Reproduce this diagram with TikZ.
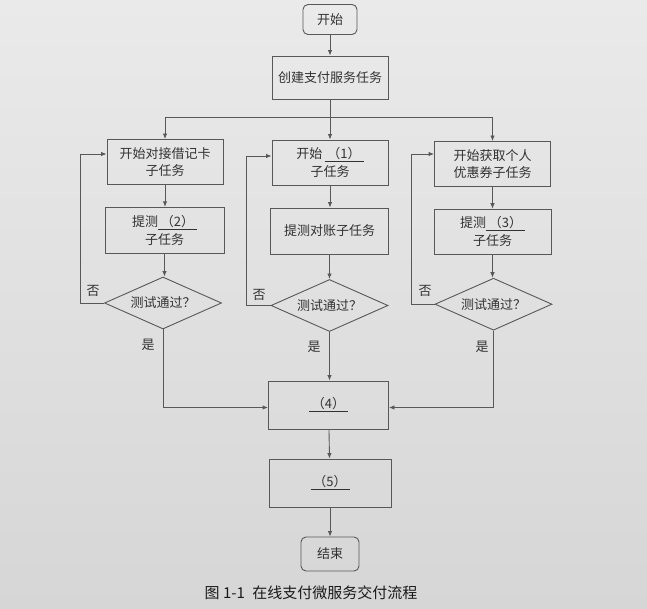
\documentclass[tikz,border=0pt]{standalone}
\usepackage{fontspec}
\setmainfont{Noto Sans CJK SC}
\usetikzlibrary{arrows.meta,shapes.geometric}
\definecolor{bgtop}{RGB}{234,234,234}
\definecolor{bgbot}{RGB}{214,214,214}
\definecolor{ink}{RGB}{88,88,88}
\definecolor{txt}{RGB}{50,50,50}
\newcommand{\blank}[1]{\underline{\makebox[3em]{（#1）}}}
\begin{document}
\begin{tikzpicture}[x=1pt,y=-1pt,
  box/.style={draw=ink, line width=0.9pt, minimum width=116pt, minimum height=45pt,
    inner sep=0pt, align=center, font=\fontsize{13}{17.5}\selectfont, text=txt},
  term/.style={box, rounded corners=5pt, minimum width=54pt, minimum height=30pt},
  dec/.style={draw=ink, line width=0.9pt, diamond, aspect=2.2, minimum width=117pt,
    minimum height=52pt, inner sep=0pt, font=\fontsize{13}{15}\selectfont, text=txt},
  arr/.style={draw=ink, line width=0.9pt, -{Latex[length=5.5pt,width=4.5pt]}},
  lbl/.style={font=\fontsize{13}{15}\selectfont, text=txt}
]
\useasboundingbox (0,0) rectangle (647,609);
\shade[top color=bgtop, bottom color=bgbot] (0,0) rectangle (647,609);

% nodes
\node[term] (start) at (330,19.5) {开始};
\node[box, minimum height=43pt] (create) at (330,77.5) {创建支付服务任务};

\node[box] (L1) at (165,162) {开始对接借记卡\\子任务};
\node[box] (M1) at (330,162.5) {开始\,\blank{1}\\子任务};
\node[box] (R1) at (492.5,164) {开始获取个人\\优惠券子任务};

\node[box, minimum width=119pt, minimum height=46pt] (L2) at (164.5,230.3) {提测\blank{2}\\子任务};
\node[box, minimum width=118pt, minimum height=46pt] (M2) at (329.5,231) {提测对账子任务};
\node[box, minimum width=117pt] (R2) at (492.5,231.7) {提测\blank{3}\\子任务};

\node[dec] (LD) at (163,303) {测试通过？};
\node[dec] (MD) at (329.5,305.5) {测试通过？};
\node[dec] (RD) at (493.5,304.2) {测试通过？};

\node[box, minimum width=120pt, minimum height=48pt] (B4) at (328.5,405) {\blank{4}};
\node[box, minimum width=122pt, minimum height=48pt] (B5) at (330,483) {\blank{5}};
\node[term, minimum width=58pt, minimum height=34pt] (end) at (330,554) {结束};

% labels
\node[lbl] (noL) at (93,291) {否};
\node[lbl] (noM) at (259,295) {否};
\node[lbl] (noR) at (425,291) {否};
\node[lbl] (yesL) at (148,345) {是};
\node[lbl] (yesM) at (314,347) {是};
\node[lbl] (yesR) at (482,347) {是};

\node[font=\fontsize{15}{17}\selectfont, text=black!90] (cap) at (311,592.5) {图 1-1\enspace 在线支付微服务交付流程};

% helper coordinates
\coordinate (br) at (330,117.5);
\coordinate (Lloop) at (80,0);
\coordinate (Mloop) at (246.5,0);
\coordinate (Rloop) at (411,0);
\coordinate (yline) at (0,407.5);

% connectors
\draw[arr] (start) -- (create);
\draw[draw=ink, line width=0.9pt] (create.south) -- (br);
\draw[arr] (br) -- (M1.north);
\draw[arr] (br) -| (L1.north);
\draw[arr] (br) -| (R1.north);

\draw[arr] (L1.south) -- (L1.south |- L2.north);
\draw[arr] (M1.south) -- (M1.south |- M2.north);
\draw[arr] (R1.south) -- (R1.south |- R2.north);

\draw[arr] (L2.south) -- (L2.south |- LD.north);
\draw[arr] (M2.south) -- (M2.south |- MD.north);
\draw[arr] (R2.south) -- (R2.south |- RD.north);

\draw[arr] (LD.west) -- (LD.west -| Lloop) |- ([yshift=8pt]L1.west);
\draw[arr] (MD.west) -- (MD.west -| Mloop) |- ([yshift=6.5pt]M1.west);
\draw[arr] (RD.west) -- (RD.west -| Rloop) |- ([yshift=10pt]R1.west);

\draw[arr] (LD.south) -- (LD.south |- yline) -- (B4.west |- yline);
\draw[arr] (MD.south) -- (MD.south |- B4.north);
\draw[arr] (RD.south) -- (RD.south |- yline) -- (B4.east |- yline);

\draw[arr] (B4) -- (B5);
\draw[arr] (B5) -- (end);
\end{tikzpicture}
\end{document}
